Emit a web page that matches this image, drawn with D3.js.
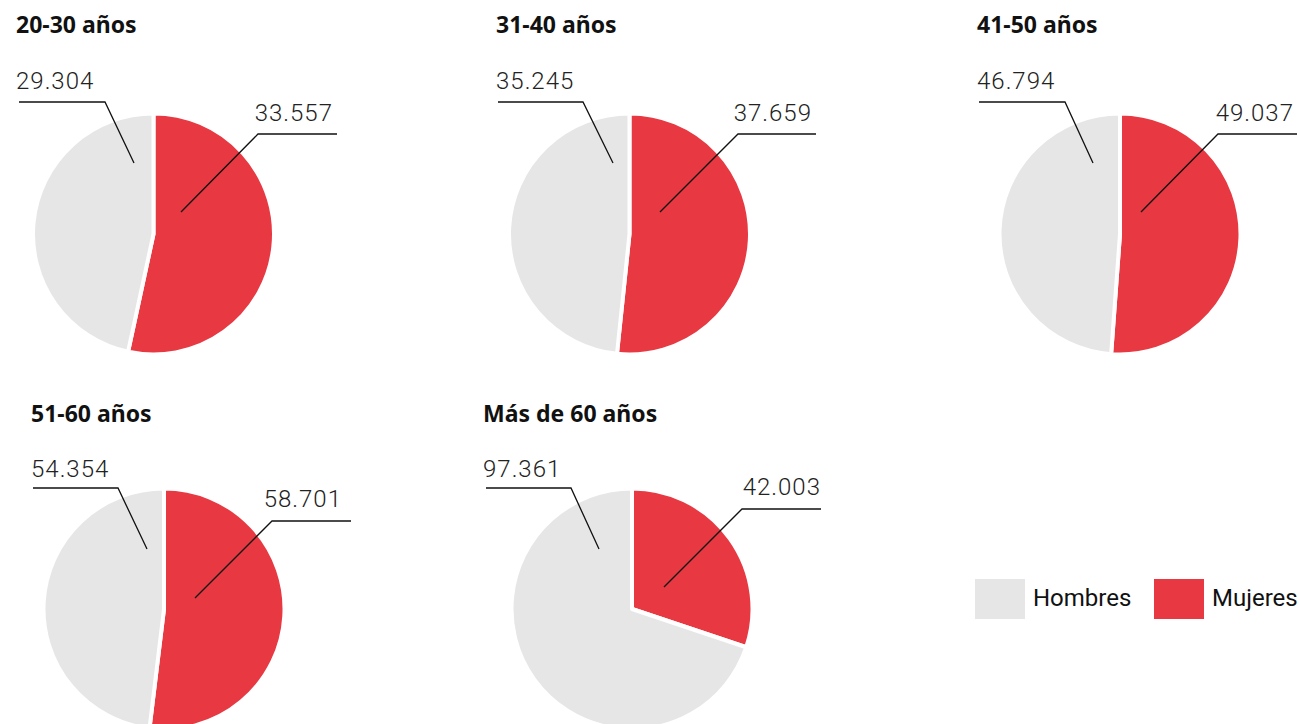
<!DOCTYPE html>
<html>
<head>
<meta charset="utf-8">
<script src="https://cdn.jsdelivr.net/npm/d3@7"></script>
<style>
  body { margin: 0; background: #fff; }
  .title { font-family: "Noto Sans", sans-serif; font-weight: 700; font-size: 23px; fill: #111; }
  .value { font-family: Roboto, sans-serif; font-weight: 300; font-size: 24px; letter-spacing: 1px; fill: #222; }
  .legend text { font-family: Roboto, sans-serif; font-weight: 400; font-size: 24px; fill: #111; }
  .leader { stroke: #111; stroke-width: 1.3; fill: none; }
</style>
</head>
<body>
<script>
// data
var categories = ["20-30 años", "31-40 años", "41-50 años", "51-60 años", "Más de 60 años"];
var series = ["Hombres", "Mujeres"];
var hombres = [29304, 35245, 46794, 54354, 97361];
var mujeres = [33557, 37659, 49037, 58701, 42003];

var width = 1300, height = 724;

// colour per series
var color = d3.scaleOrdinal()
  .domain(series)
  .range(["#e6e6e6", "#e83842"]);

// spanish thousands separator
var fmt = d3.formatLocale({decimal: ",", thousands: ".", grouping: [3], currency: ["", ""]}).format(",");

// layout of each small pie: centre, left edge of title, title baseline
// h = hombres label (baseline, leader y, leader x1/x2, pointer end)
// m = mujeres label (right x, baseline, leader y, leader x1/x2, pointer end)
var layout = [
  {cx: 153.5, cy: 234, x0: 16,  ty: 33,
    h: {by: 89,  ly: 102, x1: 19,  x2: 105,  ex: 134,  ey: 163},
    m: {rx: 333, by: 121, ly: 134, x1: 258, x2: 337, ex: 181, ey: 212}},
  {cx: 629.5, cy: 234, x0: 496, ty: 33,
    h: {by: 89,  ly: 102, x1: 498, x2: 583,  ex: 613,  ey: 163},
    m: {rx: 812, by: 121, ly: 134, x1: 738, x2: 816, ex: 660, ey: 212}},
  {cx: 1120,  cy: 234, x0: 977, ty: 33,
    h: {by: 89,  ly: 102, x1: 979, x2: 1065, ex: 1093, ey: 163},
    m: {rx: 1294, by: 121, ly: 134, x1: 1218, x2: 1297, ex: 1141, ey: 212}},
  {cx: 164,   cy: 609, x0: 31,  ty: 422,
    h: {by: 477, ly: 488, x1: 33,  x2: 118,  ex: 147,  ey: 549},
    m: {rx: 342, by: 507, ly: 521, x1: 272, x2: 351, ex: 195, ey: 598}},
  {cx: 632,   cy: 609, x0: 483, ty: 422,
    h: {by: 477, ly: 488, x1: 486, x2: 571,  ex: 599,  ey: 549},
    m: {rx: 821, by: 495, ly: 509, x1: 742, x2: 821, ex: 664, ey: 587}}
];

var radius = 120.5;

var svg = d3.select("body").append("svg")
  .attr("width", width)
  .attr("height", height);

// mujeres first, clockwise from 12 o'clock
var pie = d3.pie().sort(null).value(function(d) { return d.value; });
var arc = d3.arc().innerRadius(0).outerRadius(radius);

categories.forEach(function(cat, i) {
  var L = layout[i];
  var g = svg.append("g").attr("class", "chart");

  g.append("text")
    .attr("class", "title")
    .attr("x", L.x0)
    .attr("y", L.ty)
    .text(cat);

  var slices = pie([
    {key: "Mujeres", value: mujeres[i]},
    {key: "Hombres", value: hombres[i]}
  ]);

  g.append("g")
    .attr("transform", "translate(" + L.cx + "," + L.cy + ")")
    .selectAll("path")
    .data(slices)
    .enter().append("path")
    .attr("d", arc)
    .attr("fill", function(d) { return color(d.data.key); })
    .attr("stroke", "#fff")
    .attr("stroke-width", 4)
    .attr("stroke-linejoin", "round");

  // hombres label
  g.append("polyline")
    .attr("class", "leader")
    .attr("points", [[L.h.x1, L.h.ly], [L.h.x2, L.h.ly], [L.h.ex, L.h.ey]].join(" "));
  g.append("text")
    .attr("class", "value")
    .attr("x", L.x0)
    .attr("y", L.h.by)
    .text(fmt(hombres[i]));

  // mujeres label
  g.append("polyline")
    .attr("class", "leader")
    .attr("points", [[L.m.x2, L.m.ly], [L.m.x1, L.m.ly], [L.m.ex, L.m.ey]].join(" "));
  g.append("text")
    .attr("class", "value")
    .attr("x", L.m.rx)
    .attr("y", L.m.by)
    .style("text-anchor", "end")
    .text(fmt(mujeres[i]));
});

// legend
var legendX = [975, 1154];
var legend = svg.selectAll(".legend")
  .data(series)
  .enter().append("g")
  .attr("class", "legend")
  .attr("transform", function(d, i) { return "translate(" + legendX[i] + ",579)"; });

legend.append("rect")
  .attr("width", 50)
  .attr("height", 40)
  .attr("fill", function(d) { return color(d); });

legend.append("text")
  .attr("x", 58)
  .attr("y", 27)
  .text(function(d) { return d; });
</script>
</body>
</html>
